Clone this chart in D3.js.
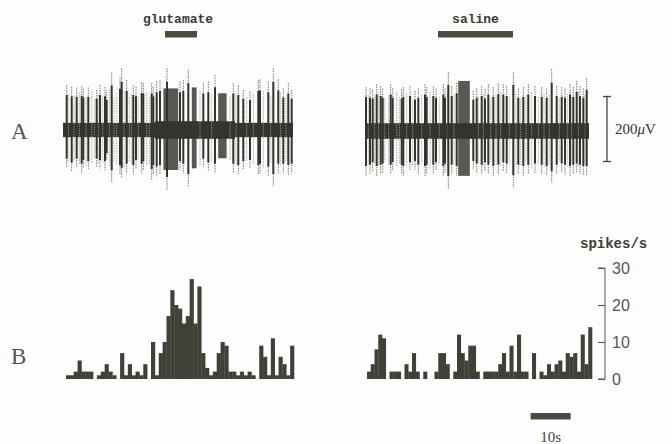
<!DOCTYPE html>
<html>
<head>
<meta charset="utf-8">
<script src="https://cdn.jsdelivr.net/npm/d3@7"></script>
<style>
  body { margin: 0; background: #fcfdfc; }
  svg { display: block; }
</style>
</head>
<body>
<svg id="canvas"></svg>
<script>
// ---- data ----
// spike-rate histograms (spikes/s), one bin per second
const gluRate = [1,1,2,5,2,2,2,0,1,2,4,2,1,0,7,1,4,1,2,1,4,0,
  10,1,7,10,17,24,20,19,15,17,27,15,25,7,3,1,
  2,7,10,9,2,2,1,2,1,2,1,
  0,
  9,6,1,11,1,6,4,1,9];
const salRate = [2,4,8,12,11,0,2,2,2,0,4,2,7,2,0,2,0,0,2,7,7,4,0,
  2,12,7,5,9,9,2,0,2,2,2,2,4,7,2,9,2,12,2,2,0,7,0,
  2,1,4,2,4,5,2,7,6,7,2,12,4,14];
const rateTicks = [0, 10, 20, 30];

// raw traces: [time s, up uV, down uV]
const gluSpikes = [[0.92,138,113],[2.17,133,128],[3.42,131,113],[4.67,135,133],[5.08,128,118],
  [6.33,131,123],[8.42,123,113],[9.25,138,118],[10.5,133,123],[10.92,118,92],[12.17,176,159],
  [14.25,162,138],[14.67,190,149],[15.92,154,133],[17.58,138,138],[18.25,133,118],[19.67,146,133],
  [20.08,144,123],[22.17,144,154],[22.58,133,138],[23.42,149,144],[24.25,154,138],[26.0,190,185],
  [29.25,149,123],[30.08,154,133],[31.33,185,174],[35.08,144,113],[36.33,149,128],[38.0,169,133],
  [42.58,144,133],[43.83,138,138],[45.08,123,123],[46.75,118,118],[48.83,154,138],[49.25,156,133],
  [51.33,149,144],[52.58,190,174],[53.83,156,133],[55.08,128,133],[56.33,144,138],[57.17,123,133]];
const gluMinor = [[1.33,110,100],[2.75,105,95],[4.08,115,105],[5.75,100,110],[7.17,120,100],
  [7.83,95,90],[8.83,110,105],[9.92,105,100],[11.58,125,110],[12.75,100,95],[13.42,115,105],
  [15.25,120,115],[16.58,100,100],[17.17,110,105],[18.83,105,95],[20.92,115,110],[21.58,100,105],
  [34.25,120,110],[37.17,110,100],[41.75,105,95],[43.25,115,110],[45.92,100,95],[47.58,110,105],
  [50.08,120,115],[51.92,105,100],[54.42,115,110],[55.75,100,95]];
const gluBursts = [[25.1,28.8,128,123],[32.2,33.4,131,118],[38.8,40.9,113,87]];
const gluNoise = [[0,23,22],[23,43,27],[43,57.5,22]];

const salSpikes = [[0.25,135,138],[1.25,131,133],[1.92,128,123],[2.92,144,138],[3.92,138,133],
  [4.42,131,128],[6.42,144,133],[6.92,131,123],[9.17,128,133],[9.58,135,138],[11.25,138,123],
  [12.5,123,118],[13.33,131,133],[15.0,144,138],[15.42,135,133],[17.08,138,133],[17.75,131,123],
  [19.58,144,138],[20.0,131,128],[20.83,182,178],[21.67,138,133],[22.92,149,138],[27.08,123,118],
  [27.92,131,128],[29.17,138,133],[30.0,128,123],[30.83,144,133],[32.08,135,138],[33.33,146,133],
  [34.58,144,123],[35.42,138,128],[37.08,182,174],[38.33,131,133],[39.58,135,138],[40.83,144,133],
  [42.5,138,128],[44.17,135,133],[45.42,131,138],[46.67,190,159],[47.92,138,133],[49.17,135,128],
  [50.0,131,133],[51.25,144,138],[52.08,135,133],[52.92,154,128],[53.75,138,133],[54.58,131,138],
  [55.42,162,138]];
const salMinor = [[0.83,110,105],[2.42,105,100],[3.42,115,110],[4.92,100,95],[5.92,110,105],
  [7.92,120,110],[8.58,105,100],[10.42,115,110],[11.92,100,105],[14.17,110,100],[16.25,120,115],
  [18.58,105,100],[20.58,115,110],[22.25,110,105],[28.33,105,100],[29.58,115,110],[31.42,100,95],
  [32.75,110,105],[33.92,120,110],[36.08,105,100],[37.75,115,110],[38.92,100,105],[40.25,110,100],
  [41.67,120,115],[43.33,105,100],[44.75,115,110],[46.08,110,105],[48.58,100,95],[50.58,115,110],
  [51.67,105,100],[53.33,120,110],[55.0,110,105]];
const salBursts = [[23.3,26.2,154,138]];
const salNoise = [[0,56,24]];

const gluDrug = [25.5, 33.5];   // glutamate application, s
const salDrug = [18.25, 37];    // saline application, s

// ---- layout ----
const width = 672;
const height = 444;
const ink = '#33352d';
const barInk = '#4a4c40';

const svg = d3.select('#canvas')
  .attr('width', width)
  .attr('height', height);

const yR = d3.scaleLinear().domain([0, 30]).range([379, 268]);   // spikes/s

// one panel = raw trace on top + histogram below
function drawPanel(opt) {
  const xT = d3.scaleLinear().domain([0, opt.duration]).range(opt.traceRange);
  const yV = d3.scaleLinear().domain([-200, 200]).range([opt.yMid + 65, opt.yMid - 65]);

  const g = svg.append('g');

  // noise band
  g.selectAll('rect.noise')
    .data(opt.noise)
    .enter()
    .append('rect')
    .attr('x', d => xT(d[0]))
    .attr('width', d => xT(d[1]) - xT(d[0]))
    .attr('y', d => yV(d[2]))
    .attr('height', d => yV(-d[2]) - yV(d[2]))
    .attr('fill', ink);

  // dense bursts
  g.selectAll('rect.burst')
    .data(opt.bursts)
    .enter()
    .append('rect')
    .attr('x', d => xT(d[0]))
    .attr('width', d => xT(d[1]) - xT(d[0]))
    .attr('y', d => yV(d[2]))
    .attr('height', d => yV(-d[3]) - yV(d[2]))
    .attr('fill', ink)
    .attr('opacity', 0.82);

  // faint small spikes
  g.selectAll('line.minor')
    .data(opt.minor)
    .enter()
    .append('line')
    .attr('x1', d => xT(d[0])).attr('x2', d => xT(d[0]))
    .attr('y1', d => yV(d[1])).attr('y2', d => yV(-d[2]))
    .attr('stroke', '#9a9c94')
    .attr('stroke-width', 0.8)
    .attr('stroke-dasharray', '1.5,1');

  // spike tips (dotted), then solid core
  g.selectAll('line.tip')
    .data(opt.spikes)
    .enter()
    .append('line')
    .attr('x1', d => xT(d[0])).attr('x2', d => xT(d[0]))
    .attr('y1', d => yV(d[1])).attr('y2', d => yV(-d[2]))
    .attr('stroke', '#6a6c64')
    .attr('stroke-width', 0.9)
    .attr('stroke-dasharray', '1.5,1');

  g.selectAll('line.core')
    .data(opt.spikes)
    .enter()
    .append('line')
    .attr('x1', d => xT(d[0])).attr('x2', d => xT(d[0]))
    .attr('y1', d => yV(d[1] * 0.78)).attr('y2', d => yV(-d[2] * 0.78))
    .attr('stroke', ink)
    .attr('stroke-width', 2);

  // drug bar + label
  g.append('rect')
    .attr('x', xT(opt.drug[0]))
    .attr('width', xT(opt.drug[1]) - xT(opt.drug[0]))
    .attr('y', 31)
    .attr('height', 6.5)
    .attr('fill', barInk);

  g.append('text')
    .attr('x', (xT(opt.drug[0]) + xT(opt.drug[1])) / 2 - opt.labelShift)
    .attr('y', 23)
    .attr('text-anchor', 'middle')
    .style('font-family', '"Liberation Mono", "DejaVu Sans Mono", monospace')
    .style('font-weight', 'bold')
    .style('font-size', '13px')
    .attr('fill', '#3a3a36')
    .text(opt.label);

  // histogram
  const xB = d3.scaleBand()
    .domain(d3.range(opt.rate.length))
    .range(opt.histRange)
    .paddingInner(0);

  g.selectAll('rect.bin')
    .data(opt.rate)
    .enter()
    .append('rect')
    .attr('x', (d, i) => xB(i))
    .attr('width', xB.bandwidth() + 0.3)
    .attr('y', d => yR(d))
    .attr('height', d => yR(0) - yR(d))
    .attr('fill', '#3f4136');
}

drawPanel({
  duration: 57.5, traceRange: [63, 293], yMid: 130,
  noise: gluNoise, bursts: gluBursts, spikes: gluSpikes, minor: gluMinor,
  drug: gluDrug, label: 'glutamate', labelShift: 3,
  rate: gluRate, histRange: [66, 294]
});

drawPanel({
  duration: 56, traceRange: [365, 589], yMid: 131,
  noise: salNoise, bursts: salBursts, spikes: salSpikes, minor: salMinor,
  drug: salDrug, label: 'saline', labelShift: 0,
  rate: salRate, histRange: [367, 592]
});

// 200 uV calibration bar
const yCal = d3.scaleLinear().domain([-200, 200]).range([129 + 65, 129 - 65]);
const cal = svg.append('g').attr('stroke', '#444').attr('stroke-width', 1.3);
cal.append('line').attr('x1', 607).attr('x2', 607).attr('y1', yCal(100)).attr('y2', yCal(-100));
cal.append('line').attr('x1', 603).attr('x2', 611).attr('y1', yCal(100)).attr('y2', yCal(100));
cal.append('line').attr('x1', 603).attr('x2', 611).attr('y1', yCal(-100)).attr('y2', yCal(-100));

svg.append('text')
  .attr('x', 615)
  .attr('y', 134)
  .style('font-family', '"Liberation Serif", serif')
  .style('font-size', '15px')
  .attr('fill', '#333')
  .html('200<tspan font-style="italic">\u03bc</tspan>V');

// rate axis on the right
const axis = svg.append('g')
  .attr('transform', 'translate(605,0)')
  .call(d3.axisLeft(yR).tickValues(rateTicks).tickSize(7).tickFormat(''));
axis.select('.domain').attr('d', 'M-7,' + yR(30) + 'H0V' + yR(0) + 'H-7').attr('stroke', '#555');
axis.selectAll('line').attr('stroke', '#555');

svg.selectAll('text.tick')
  .data(rateTicks)
  .enter()
  .append('text')
  .attr('x', 612)
  .attr('y', d => yR(d) + 5.5)
  .style('font-family', '"Liberation Sans", Arial, sans-serif')
  .style('font-size', '16px')
  .attr('fill', '#555')
  .text(d => d);

svg.append('text')
  .attr('x', 580)
  .attr('y', 248)
  .style('font-family', '"Liberation Mono", monospace')
  .style('font-weight', 'bold')
  .style('font-size', '14px')
  .attr('fill', '#3a3a36')
  .text('spikes/s');

// 10 s time bar (same seconds scale as the saline trace)
const xSec = d3.scaleLinear().domain([0, 56]).range([365, 589]);
svg.append('rect')
  .attr('x', xSec(41.4))
  .attr('width', xSec(10) - xSec(0))
  .attr('y', 413)
  .attr('height', 6.5)
  .attr('fill', barInk);
svg.append('text')
  .attr('x', xSec(41.4) + (xSec(10) - xSec(0)) / 2)
  .attr('y', 442)
  .attr('text-anchor', 'middle')
  .style('font-family', '"Liberation Serif", serif')
  .style('font-size', '15px')
  .attr('fill', '#444')
  .text('10s');

// panel letters
svg.selectAll('text.letter')
  .data([['A', 139], ['B', 364]])
  .enter()
  .append('text')
  .attr('x', 11)
  .attr('y', d => d[1])
  .style('font-family', '"Liberation Serif", serif')
  .style('font-size', '23px')
  .attr('fill', '#555')
  .text(d => d[0]);
</script>
</body>
</html>
